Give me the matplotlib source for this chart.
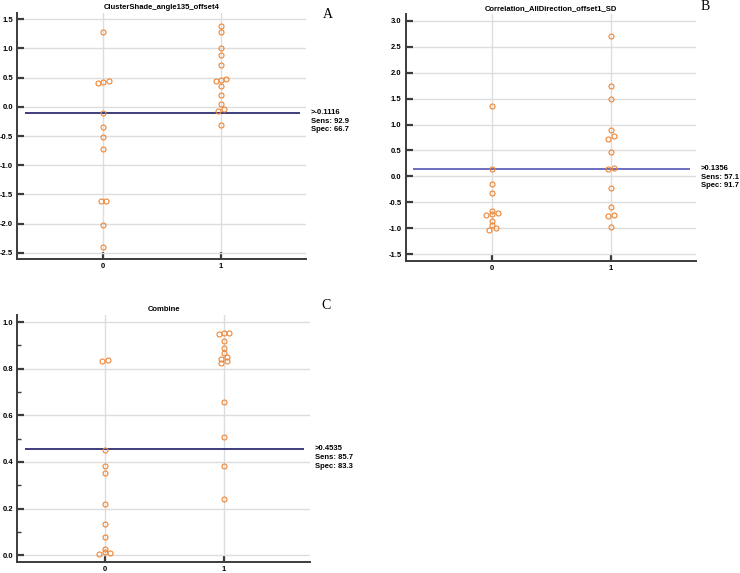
# dot plots of the two features and the combined model, with the cut-off line
import numpy as np
import matplotlib
matplotlib.use("Agg")
import matplotlib.pyplot as plt
import matplotlib.ticker as ticker
import matplotlib.transforms as mtransforms

# panel A: ClusterShade_angle135_offset4
a_g0 = [1.29, 0.41, 0.42, 0.45, -0.11, -0.35, -0.52, -0.72, -1.62, -1.62, -2.02, -2.41]
a_j0 = [0, -0.045, 0, 0.048, 0, 0, 0, 0, -0.02, 0.025, 0, 0]
a_g1 = [1.39, 1.29, 1.00, 0.88, 0.72, 0.45, 0.46, 0.47, 0.35, 0.21, 0.04, -0.08, -0.04, -0.32]
a_j1 = [0, 0, 0, 0, 0, -0.045, 0, 0.045, 0, 0, 0, -0.025, 0.028, 0]
a_cut, a_sens, a_spec = -0.1116, 92.9, 66.7

# panel B: Correlation_AllDirection_offset1_SD
b_g0 = [1.36, 0.1356, -0.14, -0.32, -0.67, -0.72, -0.70, -0.74, -0.86, -0.93, -0.99, -1.04]
b_j0 = [0, 0, 0, 0, 0, 0, 0.048, -0.048, 0, 0, 0.03, -0.025]
b_g1 = [2.71, 1.75, 1.50, 0.89, 0.72, 0.77, 0.47, 0.14, 0.16, -0.23, -0.59, -0.77, -0.75, -0.98]
b_j1 = [0, 0, 0, 0, -0.023, 0.028, 0, -0.023, 0.028, 0, 0, -0.023, 0.028, 0]
b_cut, b_sens, b_spec = 0.1356, 57.1, 91.7

# panel C: Combine
c_g0 = [0.831, 0.836, 0.453, 0.384, 0.354, 0.219, 0.133, 0.077, 0.027, 0.006, 0.014, 0.009]
c_j0 = [-0.022, 0.025, 0, 0, 0, 0, 0, 0, 0, -0.045, 0, 0.047]
c_g1 = [0.949, 0.954, 0.954, 0.919, 0.890, 0.867, 0.840, 0.849, 0.823, 0.833, 0.659, 0.509, 0.381, 0.243]
c_j1 = [-0.044, 0, 0.044, 0, 0, 0, -0.022, 0.025, -0.022, 0.025, 0, 0, 0, 0]
c_cut, c_sens, c_spec = 0.4535, 85.7, 83.3

groups = [0, 1]

plt.rcParams["font.family"] = ["Liberation Sans", "DejaVu Sans"]
dot_color = "#ee8533"
spine_color = "#3c3c3c"
grid_color = "#dddddd"


def cut_label(cut, sens, spec):
    return f">{cut}\nSens: {sens}\nSpec: {spec}"


def draw_panel(ax, title, g0, j0, g1, j1, cut, sens, spec, ylim, major, minor, line_color):
    ax.set_xlim(-0.73, 1.72)
    ax.set_ylim(*ylim)
    ax.yaxis.set_major_locator(ticker.MultipleLocator(major))
    if minor:
        ax.yaxis.set_minor_locator(ticker.MultipleLocator(minor))
    ax.yaxis.set_major_formatter(ticker.FormatStrFormatter("%.1f"))
    ax.set_xticks(groups)
    ax.set_xticklabels([str(g) for g in groups])
    ax.grid(True, color=grid_color, linewidth=1.0)
    ax.set_axisbelow(True)
    for s in ["top", "right"]:
        ax.spines[s].set_visible(False)
    for s in ["left", "bottom"]:
        ax.spines[s].set_color(spine_color)
        ax.spines[s].set_linewidth(1.4)
    ax.tick_params(which="major", direction="in", length=5, width=1.6, color=spine_color,
                   labelsize=5.5, pad=3)
    ax.tick_params(which="minor", direction="in", length=3, width=1.0, color=spine_color)
    for lab in ax.get_xticklabels() + ax.get_yticklabels():
        lab.set_fontweight("bold")

    x0 = np.zeros(len(g0)) + groups[0] + np.array(j0)
    x1 = np.zeros(len(g1)) + groups[1] + np.array(j1)
    for xs, ys in [(x0, g0), (x1, g1)]:
        ax.plot(xs, ys, "o", ls="none", mfc="none", mec=dot_color, ms=3.6, mew=0.8,
                clip_on=False, zorder=3)

    ax.hlines(cut, -0.665, 1.668, color=line_color, linewidth=1.2, zorder=2)
    trans = mtransforms.blended_transform_factory(ax.transAxes, ax.transData)
    ax.annotate(cut_label(cut, sens, spec), xy=(1.017, cut), xycoords=trans,
                xytext=(0, 3.2), textcoords="offset points", va="top", ha="left",
                fontsize=5.5, fontweight="bold", linespacing=1.35)
    ax.set_title(title, fontsize=5.5, fontweight="bold", pad=3)


fig = plt.figure(figsize=(7.4, 5.73), dpi=100)

ax_a = fig.add_axes([0.0234, 0.5475, 0.390, 0.4303])
draw_panel(ax_a, "ClusterShade_angle135_offset4", a_g0, a_j0, a_g1, a_j1,
           a_cut, a_sens, a_spec, (-2.613, 1.613), 0.5, None, "#1e1e66")

ax_b = fig.add_axes([0.548, 0.5445, 0.3923, 0.431])
draw_panel(ax_b, "Correlation_AllDirection_offset1_SD", b_g0, b_j0, b_g1, b_j1,
           b_cut, b_sens, b_spec, (-1.629, 3.129), 0.5, None, "#5656b6")

ax_c = fig.add_axes([0.0234, 0.0192, 0.3955, 0.431])
draw_panel(ax_c, "Combine", c_g0, c_j0, c_g1, c_j1,
           c_cut, c_sens, c_spec, (-0.029, 1.03), 0.2, 0.1, "#1e1e66")

letter_font = dict(fontsize=10, family=["Liberation Serif", "DejaVu Serif"],
                   ha="center", va="center")
fig.text(0.443, 0.9747, "A", **letter_font)
fig.text(0.953, 0.988, "B", **letter_font)
fig.text(0.4405, 0.4665, "C", **letter_font)

fig.savefig("out.png", dpi=100)
